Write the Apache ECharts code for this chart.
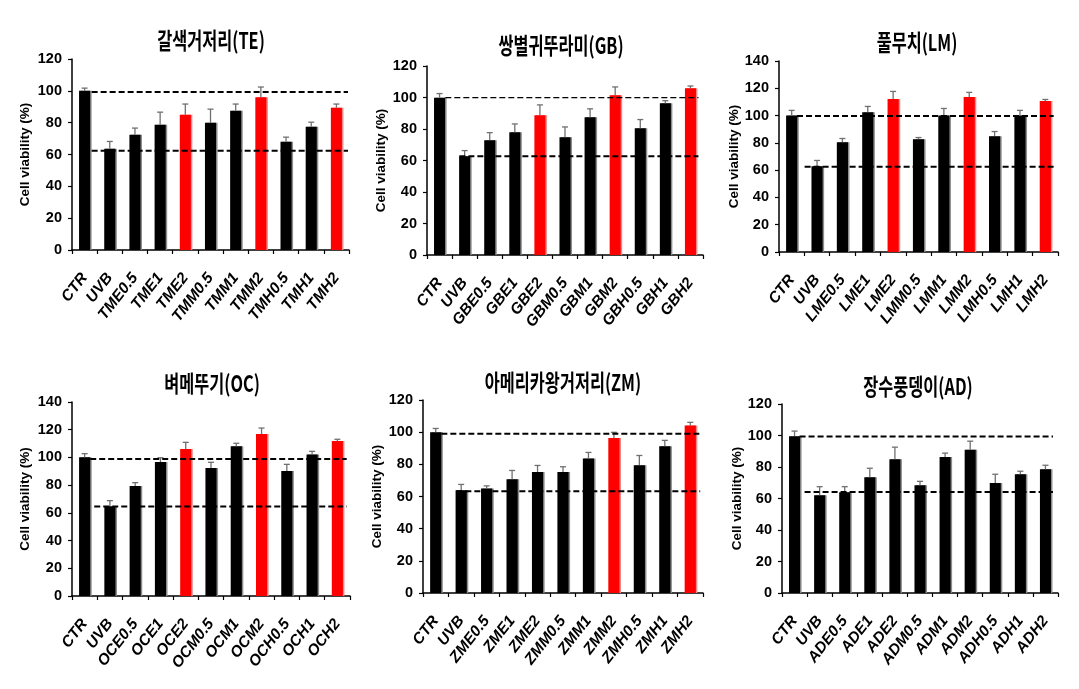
<!DOCTYPE html>
<html><head><meta charset="utf-8">
<script src="https://cdn.jsdelivr.net/npm/echarts@6/dist/echarts.min.js"></script>
<style>html,body{margin:0;padding:0;background:#fff}#c{width:1079px;height:689px}</style>
</head><body><div id="c"></div>
<script>
// ---------- DATA ----------
const titles = ['갈색거저리(TE)', '쌍별귀뚜라미(GB)', '풀무치(LM)', '벼메뚜기(OC)', '아메리카왕거저리(ZM)', '장수풍뎅이(AD)'];
const yAxisName = 'Cell viability (%)';

const catsTE = ['CTR','UVB','TME0.5','TME1','TME2','TMM0.5','TMM1','TMM2','TMH0.5','TMH1','TMH2'];
const valTE  = [100, 63.6, 72.4, 78.7, 85.0, 79.9, 87.5, 95.9, 68.0, 77.4, 89.4];
const sdTE   = [1.7, 4.6, 4.2, 7.9, 6.7, 8.6, 4.2, 6.5, 2.9, 2.9, 2.3];
const refTE  = [99.2, 62.3];

const catsGB = ['CTR','UVB','GBE0.5','GBE1','GBE2','GBM0.5','GBM1','GBM2','GBH0.5','GBH1','GBH2'];
const valGB  = [99.9, 62.7, 72.9, 78.0, 88.7, 74.8, 87.5, 101.4, 80.5, 96.3, 105.8];
const sdGB   = [2.6, 3.6, 4.8, 5.2, 6.6, 6.5, 5.3, 5.3, 5.5, 1.7, 1.5];
const refGB  = [99.9, 62.7];

const catsLM = ['CTR','UVB','LME0.5','LME1','LME2','LMM0.5','LMM1','LMM2','LMH0.5','LMH1','LMH2'];
const valLM  = [100.1, 62.9, 80.5, 102.5, 112.1, 82.7, 100.1, 113.6, 84.9, 100.1, 110.6];
const sdLM   = [3.7, 4.2, 2.7, 4.2, 5.6, 1.2, 5.1, 3.4, 3.4, 3.7, 1.2];
const refLM  = [99.6, 62.4];

const catsOC = ['CTR','UVB','OCE0.5','OCE1','OCE2','OCM0.5','OCM1','OCM2','OCH0.5','OCH1','OCH2'];
const valOC  = [100.1, 64.7, 79.4, 96.7, 106.1, 92.4, 108.0, 116.9, 90.2, 102.2, 111.9];
const sdOC   = [2.6, 4.1, 2.4, 3.1, 4.8, 4.1, 2.2, 4.3, 4.8, 2.2, 1.2];
const refOC  = [98.9, 64.5];

const catsZM = ['CTR','UVB','ZME0.5','ZME1','ZME2','ZMM0.5','ZMM1','ZMM2','ZMH0.5','ZMH1','ZMH2'];
const valZM  = [99.9, 63.9, 65.0, 70.8, 75.2, 75.2, 83.7, 96.3, 79.5, 91.3, 104.2];
const sdZM   = [2.4, 3.6, 1.6, 5.4, 4.1, 3.3, 3.7, 3.6, 6.0, 3.6, 1.9];
const refZM  = [99.0, 63.3];

const catsAD = ['CTR','UVB','ADE0.5','ADE1','ADE2','ADM0.5','ADM1','ADM2','ADH0.5','ADH1','ADH2'];
const valAD  = [99.6, 62.0, 63.9, 73.5, 85.0, 68.4, 86.4, 90.9, 69.9, 75.4, 78.6];
const sdAD   = [3.2, 5.5, 3.6, 5.7, 7.6, 2.5, 2.4, 5.5, 5.5, 1.9, 2.5];
const refAD  = [99.4, 64.1];

const yTicksA = [0, 120, 20];   // min, max, interval
const yTicksB = [0, 140, 20];

// ---------- LAYOUT / STYLE ----------
const panels = [
  {title: titles[0], cats: catsTE, vals: valTE, sd: sdTE, ref: refTE, yt: yTicksA,
   grid: {left: 72, top: 59, width: 277, height: 191}, tx: 211, ty: 40, nameGap: 40,
   red: [4, 7, 10], ls: [0.78, 0.78], le: 10.96, lw: [2, 2]},
  {title: titles[1], cats: catsGB, vals: valGB, sd: sdGB, ref: refGB, yt: yTicksA,
   grid: {left: 427, top: 66, width: 276, height: 189}, tx: 561, ty: 45, nameGap: 39,
   red: [4, 7, 10], ls: [0.73, 1.29], le: 10.82, lw: [1.2, 2]},
  {title: titles[2], cats: catsLM, vals: valLM, sd: sdLM, ref: refLM, yt: yTicksB,
   grid: {left: 779, top: 61, width: 279, height: 191}, tx: 917, ty: 42.5, nameGap: 36,
   red: [4, 7, 10], ls: [0.71, 1.01], le: 10.83, lw: [2, 2]},
  {title: titles[3], cats: catsOC, vals: valOC, sd: sdOC, ref: refOC, yt: yTicksB,
   grid: {left: 72, top: 402, width: 278, height: 194}, tx: 212, ty: 383, nameGap: 40,
   red: [4, 7, 10], ls: [0.72, 0.88], le: 10.87, lw: [2, 2]},
  {title: titles[4], cats: catsZM, vals: valZM, sd: sdZM, ref: refZM, yt: yTicksA,
   grid: {left: 423, top: 400, width: 280, height: 193}, tx: 563, ty: 382, nameGap: 39,
   red: [7, 10], ls: [0.72, 1.31], le: 10.89, lw: [2, 2]},
  {title: titles[5], cats: catsAD, vals: valAD, sd: sdAD, ref: refAD, yt: yTicksA,
   grid: {left: 782, top: 404, width: 276, height: 189}, tx: 918, ty: 386, nameGap: 38,
   red: [], ls: [0.70, 0.9], le: 10.8, lw: [2, 2]}
];

const yFont = "'Liberation Sans',Arial,sans-serif";
const xFont = "'Liberation Sans',Arial,sans-serif";

function renderErr(params, api) {
  const x = api.value(0);
  const p0 = api.coord([x, api.value(1)]);
  const p1 = api.coord([x, api.value(2)]);
  const cap = 3;
  const st = {stroke: '#707070', lineWidth: 1.3};
  return {type: 'group', children: [
    {type: 'line', shape: {x1: p0[0], y1: p0[1], x2: p1[0], y2: p1[1]}, style: st},
    {type: 'line', shape: {x1: p1[0] - cap, y1: p1[1], x2: p1[0] + cap, y2: p1[1]}, style: st}
  ]};
}

const option = {animation: false, backgroundColor: '#fff',
  graphic: [], grid: [], xAxis: [], yAxis: [], series: []};

panels.forEach((p, i) => {
  option.graphic.push({type: 'text', x: p.tx, y: p.ty, scaleX: 0.96, scaleY: 1.35, z: 10,
    style: {text: p.title, fill: '#000', font: "bold 17px 'Noto Sans CJK KR', sans-serif",
      textAlign: 'center', textVerticalAlign: 'middle'}});
  option.grid.push(Object.assign({containLabel: false}, p.grid));
  option.xAxis.push({type: 'category', gridIndex: i, data: p.cats,
    axisLine: {lineStyle: {color: '#000', width: 1.5}},
    axisTick: {show: true, length: 4, lineStyle: {color: '#000', width: 1.2}},
    axisLabel: {interval: 0, rotate: 52, margin: 25, color: '#000', fontFamily: xFont,
      fontWeight: 'bold', fontStyle: 'italic', fontSize: 15.5},
    splitLine: {show: false}});
  option.xAxis.push({type: 'value', gridIndex: i, min: 0, max: 11, show: false});
  option.yAxis.push({type: 'value', gridIndex: i, min: p.yt[0], max: p.yt[1], interval: p.yt[2],
    name: yAxisName, nameLocation: 'middle', nameGap: p.nameGap,
    nameTextStyle: {fontFamily: xFont, fontWeight: 'bold', fontSize: 13.5, color: '#000'},
    axisLine: {show: true, lineStyle: {color: '#000', width: 1.5}},
    axisTick: {show: true, length: 4, lineStyle: {color: '#000', width: 1.2}},
    axisLabel: {margin: 10, color: '#000', fontFamily: yFont, fontWeight: 'bold', fontSize: 14.5},
    splitLine: {show: false}});
  option.series.push({type: 'bar', xAxisIndex: 2 * i, yAxisIndex: i, barWidth: '44%',
    data: p.vals.map((v, k) => {
      const red = p.red.indexOf(k) >= 0;
      return {value: v, itemStyle: {color: red ? '#ff0000' : '#000',
        shadowColor: red ? '#f08a8a' : '#8c8c8c', shadowOffsetX: 1.5, shadowBlur: 0}};
    })});
  option.series.push({type: 'custom', xAxisIndex: 2 * i, yAxisIndex: i, renderItem: renderErr,
    encode: {x: 0, y: [1, 2]}, z: 3,
    data: p.vals.map((v, k) => [k, v, v + p.sd[k]])});
  [0, 1].forEach(j => {
    option.series.push({type: 'line', xAxisIndex: 2 * i + 1, yAxisIndex: i, symbol: 'none', silent: true, z: 4,
      lineStyle: {color: '#000', width: p.lw[j], type: [6, 3]},
      data: [[p.ls[j], p.ref[j]], [p.le, p.ref[j]]]});
  });
});

const chart = echarts.init(document.getElementById('c'), null, {renderer: 'canvas'});
chart.setOption(option);
</script>
</body></html>
